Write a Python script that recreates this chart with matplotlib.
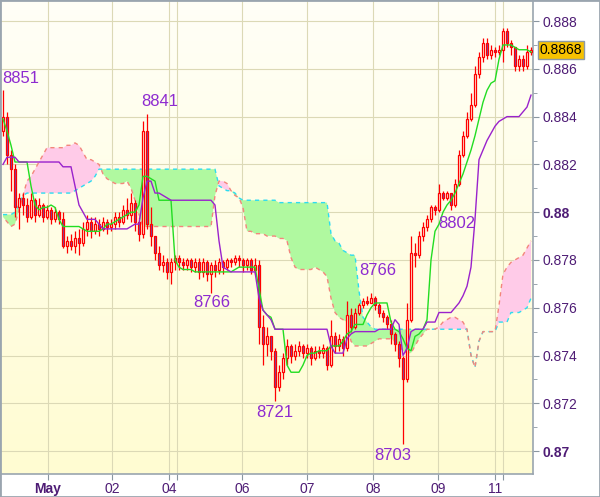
import numpy as np
import matplotlib
matplotlib.use("Agg")
import matplotlib.pyplot as plt
from matplotlib.patches import Rectangle
from matplotlib.transforms import blended_transform_factory

plt.rcParams['font.family'] = ['Liberation Sans', 'DejaVu Sans']

# Prices are in pips (0.0001), one bar every ~4 px of the original chart
first_open = 8834
close = [8840, 8824, 8818, 8802, 8806, 8803, 8798, 8805, 8799, 8803,
         8798, 8801, 8797, 8800, 8797, 8786, 8788, 8786, 8789, 8787,
         8793, 8796, 8792, 8795, 8793, 8796, 8794, 8795, 8798, 8796,
         8801, 8799, 8804, 8796, 8791, 8834, 8795, 8790, 8783, 8778,
         8779, 8775, 8779, 8781, 8779, 8778, 8780, 8777, 8779, 8775,
         8779, 8774, 8778, 8776, 8779, 8777, 8780, 8779, 8781, 8780,
         8778, 8780, 8776, 8778, 8752, 8745, 8748, 8742, 8727, 8733,
         8739, 8744, 8740, 8742, 8744, 8741, 8743, 8739, 8742, 8741,
         8743, 8736, 8748, 8744, 8747, 8743, 8757, 8752, 8758, 8761,
         8763, 8762, 8764, 8761, 8758, 8756, 8753, 8749, 8745, 8739,
         8730, 8755, 8783, 8782, 8790, 8794, 8797, 8802, 8801, 8808,
         8806, 8808, 8803, 8812, 8824, 8832, 8839, 8845, 8858, 8865,
         8871, 8866, 8868, 8867, 8868, 8876, 8871, 8869, 8861, 8864,
         8861, 8867, 8868]
high = [8851, 8842, 8826, 8820, 8808, 8808, 8806, 8808, 8806, 8806,
        8804, 8803, 8802, 8802, 8801, 8800, 8790, 8791, 8792, 8793,
        8796, 8799, 8798, 8798, 8797, 8798, 8797, 8797, 8800, 8800,
        8803, 8806, 8808, 8805, 8798, 8838, 8841, 8802, 8790, 8786,
        8782, 8781, 8781, 8782, 8782, 8781, 8781, 8781, 8781, 8781,
        8781, 8780, 8779, 8780, 8781, 8780, 8781, 8781, 8782, 8782,
        8781, 8781, 8781, 8781, 8780, 8757, 8752, 8748, 8743, 8736,
        8741, 8747, 8745, 8745, 8746, 8745, 8745, 8744, 8744, 8744,
        8745, 8744, 8755, 8750, 8749, 8748, 8763, 8760, 8760, 8762,
        8764, 8765, 8766, 8765, 8762, 8759, 8757, 8755, 8750, 8746,
        8740, 8762, 8790, 8787, 8792, 8796, 8799, 8803, 8803, 8812,
        8809, 8809, 8808, 8814, 8826, 8834, 8842, 8850, 8861, 8867,
        8873, 8873, 8870, 8869, 8870, 8877, 8877, 8872, 8869, 8866,
        8866, 8870, 8869]
low = [8832, 8820, 8809, 8798, 8793, 8799, 8796, 8797, 8796, 8798,
       8796, 8797, 8795, 8796, 8795, 8785, 8783, 8784, 8783, 8782,
       8786, 8790, 8789, 8791, 8790, 8792, 8791, 8792, 8793, 8794,
       8795, 8797, 8796, 8792, 8788, 8789, 8793, 8786, 8780, 8776,
       8775, 8772, 8770, 8776, 8776, 8776, 8776, 8775, 8775, 8772,
       8773, 8771, 8766, 8773, 8774, 8774, 8776, 8777, 8778, 8777,
       8775, 8776, 8774, 8774, 8745, 8736, 8740, 8738, 8721, 8725,
       8730, 8736, 8737, 8738, 8740, 8739, 8739, 8736, 8738, 8739,
       8739, 8734, 8735, 8741, 8742, 8740, 8742, 8750, 8751, 8757,
       8760, 8761, 8762, 8759, 8756, 8754, 8751, 8745, 8742, 8735,
       8703, 8729, 8754, 8777, 8781, 8788, 8792, 8796, 8799, 8800,
       8805, 8805, 8801, 8802, 8811, 8823, 8831, 8838, 8844, 8856,
       8863, 8864, 8864, 8865, 8866, 8863, 8869, 8866, 8859, 8859,
       8859, 8860, 8866]

tenkan = [8839, 8834, 8828, 8821, 8821, 8821, 8821, 8811, 8803, 8801,
          8802, 8802, 8803, 8802, 8797, 8794, 8794, 8794, 8794, 8794,
          8793, 8792, 8792, 8792, 8792, 8793, 8795, 8795, 8796, 8797,
          8798, 8799, 8800, 8800, 8803, 8815, 8815, 8814, 8813, 8805,
          8805, 8805, 8805, 8780, 8777, 8776, 8776, 8776, 8775, 8775,
          8775, 8775, 8775, 8775, 8775, 8775, 8775, 8775, 8776, 8777,
          8777, 8777, 8777, 8777, 8768, 8759, 8757, 8756, 8751, 8751,
          8751, 8736, 8733, 8733, 8733, 8736, 8740, 8741, 8741, 8742,
          8742, 8742, 8744, 8744, 8744, 8746, 8749, 8750, 8753, 8753,
          8753, 8757, 8760, 8762, 8762, 8762, 8762, 8754, 8751, 8750,
          8747, 8743, 8742, 8748, 8749, 8751, 8755, 8780, 8792, 8795,
          8800, 8803, 8805, 8808, 8812, 8816, 8821, 8826, 8832, 8839,
          8846, 8851, 8854, 8855, 8864, 8870, 8870, 8870, 8869, 8868,
          8868, 8868, 8867]
kijun = [8820, 8823, 8823, 8823, 8821, 8821, 8821, 8821, 8821, 8821,
         8821, 8821, 8821, 8821, 8821, 8819, 8819, 8819, 8811, 8803,
         8800, 8797, 8797, 8797, 8795, 8793, 8793, 8793, 8793, 8793,
         8793, 8793, 8794, 8795, 8795, 8806, 8813, 8813, 8808, 8808,
         8807, 8806, 8805, 8805, 8805, 8805, 8805, 8805, 8805, 8805,
         8805, 8805, 8805, 8803, 8788, 8777, 8776, 8775, 8775, 8775,
         8775, 8775, 8775, 8775, 8764, 8759, 8757, 8755, 8751, 8751,
         8751, 8751, 8751, 8751, 8751, 8751, 8751, 8751, 8751, 8751,
         8751, 8751, 8744, 8741, 8741, 8741, 8747, 8749, 8750, 8750,
         8750, 8750, 8750, 8750, 8751, 8751, 8751, 8751, 8755, 8753,
         8740, 8743, 8750, 8751, 8751, 8751, 8754, 8754, 8754, 8758,
         8758, 8758, 8758, 8760, 8762, 8765, 8769, 8777, 8797, 8822,
         8826, 8830, 8833, 8836, 8838, 8839, 8840, 8840, 8840, 8840,
         8842, 8844, 8849]
span_a = [8799, 8799, 8799, 8800, 8803, 8807, 8808, 8808, 8808, 8808,
          8808, 8808, 8808, 8808, 8808, 8808, 8808, 8808, 8809, 8810,
          8811, 8812, 8813, 8815, 8818, 8818, 8818, 8818, 8818, 8818,
          8818, 8818, 8818, 8818, 8818, 8818, 8818, 8818, 8818, 8818,
          8818, 8818, 8818, 8818, 8818, 8818, 8818, 8818, 8818, 8818,
          8818, 8818, 8818, 8818, 8811, 8810, 8809, 8809, 8808, 8806,
          8805, 8805, 8805, 8805, 8805, 8805, 8805, 8805, 8805, 8804,
          8804, 8804, 8804, 8804, 8804, 8804, 8804, 8804, 8804, 8804,
          8804, 8804, 8791, 8788, 8787, 8784, 8783, 8782, 8782, 8767,
          8756, 8754, 8752, 8751, 8751, 8751, 8751, 8751, 8751, 8751,
          8751, 8751, 8751, 8751, 8751, 8751, 8751, 8751, 8751, 8751,
          8751, 8751, 8751, 8751, 8751, 8751, 8751, 8740, 8735, 8746,
          8750, 8750, 8750, 8750, 8754, 8754, 8754, 8758, 8758, 8758,
          8759, 8760, 8764]
span_b = [8798, 8796, 8794, 8795, 8801, 8807, 8813, 8815, 8818, 8821,
          8824, 8827, 8827, 8827, 8827, 8827, 8828, 8828, 8829, 8828,
          8825, 8822, 8822, 8821, 8820, 8816, 8814, 8813, 8812, 8812,
          8812, 8813, 8810, 8805, 8799, 8794, 8794, 8794, 8794, 8794,
          8794, 8794, 8794, 8794, 8794, 8794, 8794, 8794, 8794, 8794,
          8794, 8794, 8794, 8807, 8813, 8813, 8812, 8809, 8807, 8806,
          8802, 8792, 8792, 8791, 8791, 8791, 8790, 8790, 8790, 8789,
          8789, 8788, 8781, 8777, 8776, 8776, 8776, 8776, 8777, 8776,
          8775, 8773, 8764, 8758, 8756, 8755, 8754, 8746, 8744, 8744,
          8744, 8744, 8745, 8746, 8747, 8747, 8747, 8747, 8746, 8744,
          8742, 8741, 8741, 8744, 8747, 8749, 8751, 8751, 8751, 8752,
          8754, 8755, 8756, 8756, 8755, 8754, 8751, 8740, 8735, 8746,
          8750, 8750, 8750, 8750, 8761, 8774, 8777, 8779, 8780, 8781,
          8782, 8785, 8788]

last_price = 0.8868

# date ticks (bar positions), empty label = unlabeled day line
tick_pos = [11.25, 27.25, 41.5, 43.5, 59.75, 76, 92.5, 108.75, 123, 125]
tick_lab = ['May', '02', '04', '', '06', '07', '08', '09', '11', '']

# high / low labels: text, bar position, price in pips
marks = [('8851', 4.5, 8856), ('8841', 39.25, 8846.5), ('8766', 52.25, 8762),
         ('8721', 68, 8716.3), ('8703', 97.5, 8698.3), ('8766', 93.75, 8775.4),
         ('8802', 113.5, 8795.4)]


def to_price(v):
    return np.array(v, dtype=float) / 10000.0


c = to_price(close)
h = to_price(high)
l = to_price(low)
o = np.concatenate([[first_open / 10000.0], c[:-1]])
x = np.arange(len(c))
a = to_price(span_a)
b = to_price(span_b)

fig = plt.figure(figsize=(6, 4.97), dpi=100)
fig.patch.set_facecolor('white')
ax = fig.add_axes([1 / 600, 23 / 497, 532 / 600, 473 / 497])
ymin, ymax = 0.86904, 0.88884
ax.set_xlim(-0.5, 132.5)
ax.set_ylim(ymin, ymax)

# pale yellow background gradient
top = np.array([255, 255, 247]) / 255
bot = np.array([255, 252, 210]) / 255
t = np.linspace(0, 1, 200)[:, None]
grad = (top * (1 - t) + bot * t)[:, None, :]
ax.imshow(grad, extent=[-0.5, 132.5, ymin, ymax], aspect='auto', zorder=0)

ax.set_axisbelow(True)
ax.grid(True, color='#dcd9b6', lw=0.8)

# cloud
ax.fill_between(x, a, b, where=a >= b, interpolate=True, color='#b0f9a0', lw=0, zorder=1)
ax.fill_between(x, a, b, where=b > a, interpolate=True, color='#ffcbe8', lw=0, zorder=1)
ax.plot(x, a, color='#2ddcef', lw=1, ls=(0, (3, 3)), zorder=2)
ax.plot(x, b, color='#f3867c', lw=1, ls=(3, (3, 3)), zorder=2)

# candles
ax.vlines(x, l, h, color='red', lw=0.9, zorder=3)
bottoms = np.minimum(o, c)
heights = np.maximum(np.abs(c - o), 0.00002)
faces = ['#6c4fb8' if cc < oo else '#fffde8' for oo, cc in zip(o, c)]
ax.bar(x, heights, bottom=bottoms, width=0.72, color=faces, edgecolor='red', lw=0.9, zorder=3)

ax.plot(x, to_price(tenkan), color='#22dd22', lw=1, zorder=4)
ax.plot(x, to_price(kijun), color='#9a22cc', lw=1, zorder=4)

for s, xi, yp in marks:
    ax.text(xi, yp / 10000.0, s, color='#8e2bd0', fontsize=12, ha='center', va='center', zorder=5)

# axes styling
lab_col = '#4e1c75'
for side in ['left', 'top']:
    ax.spines[side].set_visible(False)
for side in ['right', 'bottom']:
    ax.spines[side].set_color('#9aa5af')
    ax.spines[side].set_linewidth(1.2)

ax.yaxis.tick_right()
yt = np.arange(0.870, 0.8885, 0.002)
ax.set_yticks(yt)
ax.set_yticklabels([f'{v:.3f}'.rstrip('0') for v in yt])
ax.set_yticks(np.arange(0.871, 0.888, 0.002), minor=True)
ax.tick_params(axis='y', which='major', length=4, color='#8a96a0', pad=3,
               labelsize=10, labelcolor=lab_col)
ax.tick_params(axis='y', which='minor', length=3, color='#8a96a0')
for tl in ax.get_yticklabels():
    if tl.get_text() in ('0.88', '0.87'):
        tl.set_fontweight('bold')

ax.set_xticks(tick_pos)
ax.set_xticklabels(tick_lab)
ax.tick_params(axis='x', length=4, color='#8a96a0', pad=2, labelsize=10, labelcolor=lab_col)
ax.get_xticklabels()[0].set_fontweight('bold')

# current price box
tr = blended_transform_factory(ax.transAxes, ax.transData)
ax.text(1.013, last_price, f'{last_price:.4f}', transform=tr, ha='left', va='center',
        fontsize=10, color='black', clip_on=False, zorder=6,
        bbox=dict(boxstyle='square,pad=0.15', fc='#f7c200', ec='#8d9aa6', lw=1))

fig.patches.append(Rectangle((0, 0), 1, 1, transform=fig.transFigure, fill=False,
                             ec='#9aa5af', lw=2))

fig.savefig('out.png', dpi=100)
